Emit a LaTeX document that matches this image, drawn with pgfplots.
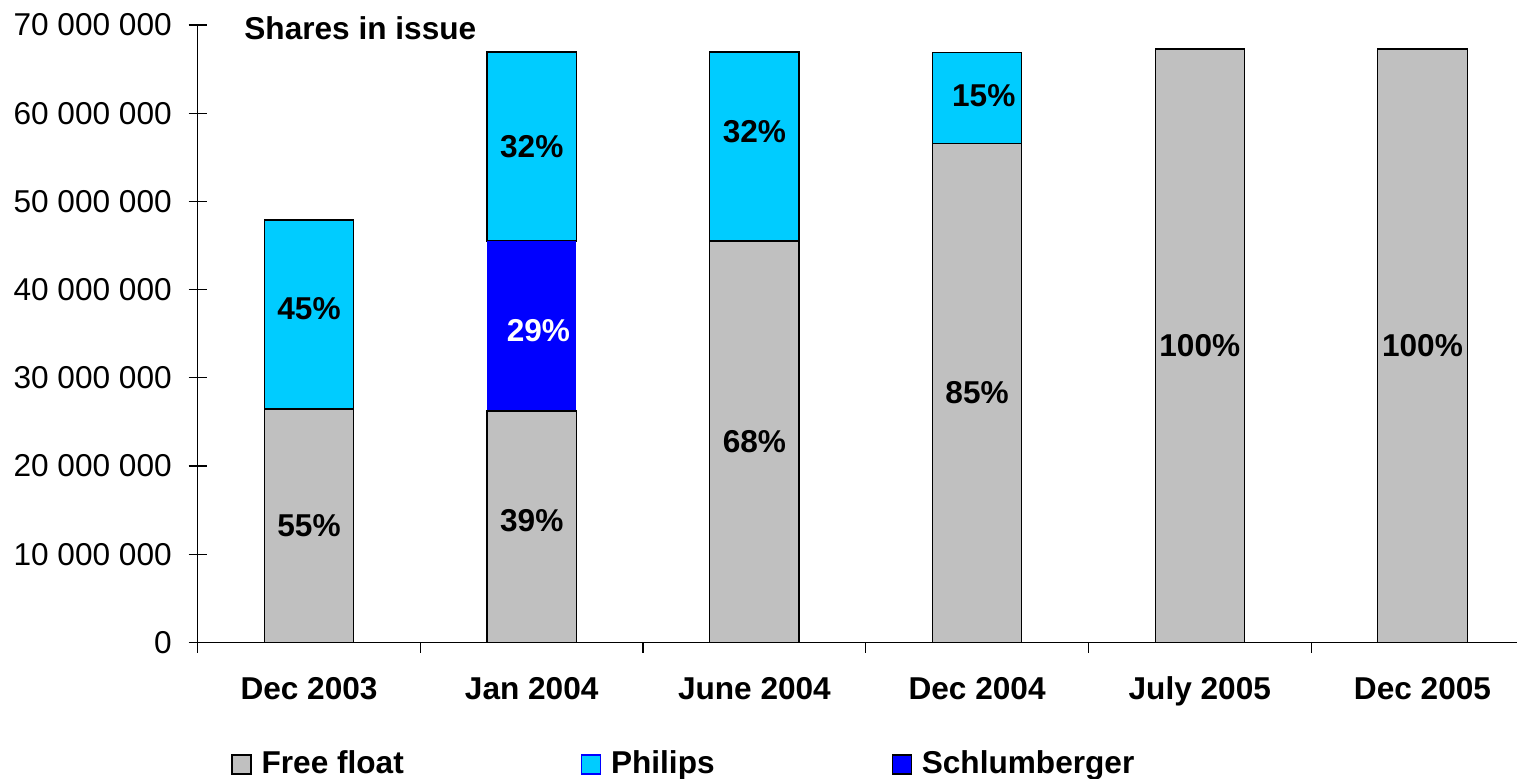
\documentclass[border=0pt]{standalone}
\usepackage{pgfplots}
\pgfplotsset{compat=1.18}
\usepackage{fontspec}
\setmainfont{Liberation Sans}
\definecolor{ffgray}{RGB}{192,192,192}
\definecolor{philips}{RGB}{0,204,255}
\definecolor{schl}{RGB}{0,0,255}
\pgfplotsset{commonframe/.style={
  at={(0,0)}, anchor=south west,
  scale only axis, width=659.5pt, height=308.75pt,
  xmin=-0.5, xmax=5.423, ymin=0, ymax=70000000}}
\begin{document}
\fontsize{15.8}{18}\selectfont
\begin{tikzpicture}
\useasboundingbox (-98.85pt,-67.75pt) rectangle (659.65pt,321.25pt);
\begin{axis}[
  commonframe,
  ybar stacked, bar width=44.65pt,
  axis x line=bottom, axis y line=left,
  axis line style={-, black, line width=0.6pt},
  xtick={0,1,2,3,4,5},
  xticklabels={Dec 2003,Jan 2004,June 2004,Dec 2004,July 2005,Dec 2005},
  x tick label style={font=\bfseries, text height=11.4pt, text depth=3.3pt, yshift=-2.5pt},
  xtick style={draw=none},
  minor xtick={-0.5,0.5,1.5,2.5,3.5,4.5},
  minor x tick style={draw=black, line width=0.6pt},
  minor tick length=5pt,
  xtick align=outside,
  ytick={0,10000000,20000000,30000000,40000000,50000000,60000000,70000000},
  yticklabels={0,10 000 000,20 000 000,30 000 000,40 000 000,50 000 000,60 000 000,70 000 000},
  scaled y ticks=false,
  ytick align=center, major tick length=9pt,
  ytick style={black, line width=0.6pt},
  y tick label style={xshift=-3pt},
  legend columns=3,
  legend image code/.code={\draw[#1] (0pt,-4.75pt) rectangle (9.5pt,4.75pt);},
  legend style={draw=none, fill=none, at={(16.65pt,-61pt)}, anchor=west,
    font=\bfseries, inner sep=0pt,
    nodes={inner sep=0pt},
    /tikz/every odd column/.append style={column sep=5pt},
    /tikz/every even column/.append style={column sep=88.5pt}},
  legend cell align=left,
  clip=false,
]
\addplot[fill=ffgray, draw=black, line width=0.6pt, forget plot] coordinates {
  (0,26470000) (1,26240000) (2,45520000) (3,56600000) (4,67270000) (5,67270000)};
\addplot[fill=schl, draw=none, forget plot] coordinates {
  (0,0) (1,19280000) (2,0) (3,0) (4,0) (5,0)};
\addplot[fill=philips, draw=black, line width=0.6pt, forget plot] coordinates {
  (0,21430000) (1,21420000) (2,21420000) (3,10300000) (4,0) (5,0)};
\addlegendimage{fill=ffgray, draw=black, line width=0.6pt}
\addlegendentry{Free float}
\addlegendimage{fill=philips, draw=schl, line width=0.6pt}
\addlegendentry{Philips}
\addlegendimage{fill=schl, draw=black, line width=0.6pt}
\addlegendentry{Schlumberger}
\node[anchor=west, inner sep=0pt, font=\bfseries] at (axis cs:-0.292,69670000) {Shares in issue};
\end{axis}
\begin{axis}[commonframe, hide axis, clip=false]
\addplot[only marks, mark=none,
  nodes near coords, point meta=explicit symbolic,
  every node near coord/.style={font=\bfseries, anchor=center, inner sep=0pt, text=black}]
  coordinates {
  (0,13300000) [55\%]
  (0,37900000) [45\%]
  (1,13800000) [39\%]
  (1,56200000) [32\%]
  (2,22800000) [68\%]
  (2,57900000) [32\%]
  (3,28300000) [85\%]
  (3.03,62000000) [15\%]
  (4,33600000) [100\%]
  (5,33600000) [100\%]
};
\addplot[only marks, mark=none,
  nodes near coords, point meta=explicit symbolic,
  every node near coord/.style={font=\bfseries, anchor=center, inner sep=0pt, text=white}]
  coordinates {
  (1.03,35400000) [29\%]
};
\end{axis}
\end{tikzpicture}
\end{document}
